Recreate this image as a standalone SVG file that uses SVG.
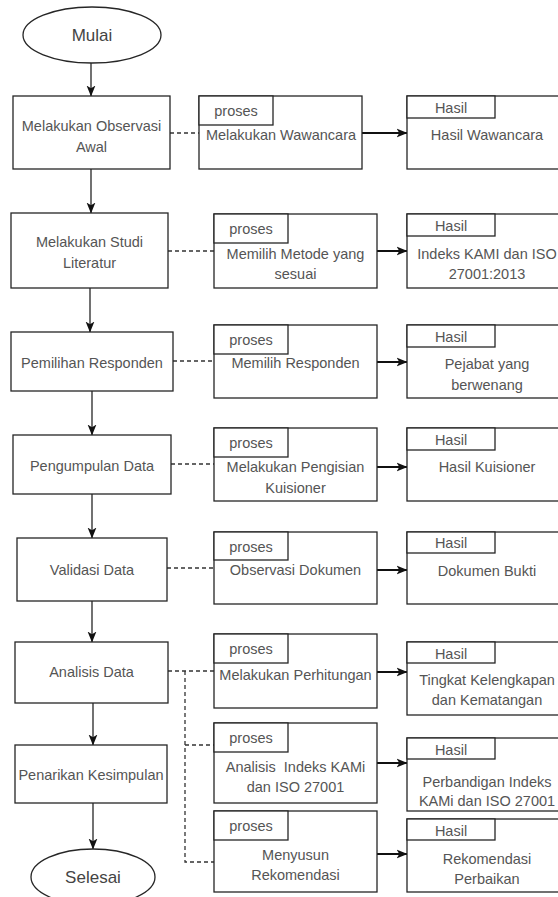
<svg xmlns="http://www.w3.org/2000/svg" width="558" height="897" viewBox="0 0 558 897">
<style>
.b{fill:#fff;stroke:#262626;stroke-width:1.3}
.t{font-family:"Liberation Sans",Arial,sans-serif;font-size:14.5px;fill:#555;text-anchor:middle;dominant-baseline:central}
.big{font-size:17px;fill:#444}
.flow{fill:none;stroke:#262626;stroke-width:1.3;marker-end:url(#ah)}
.res{fill:none;stroke:#111;stroke-width:2;marker-end:url(#ah)}
.dash{fill:none;stroke:#333;stroke-width:1.3;stroke-dasharray:4 3}
</style>
<defs>
<marker id="ah" viewBox="0 0 10 10" refX="9.5" refY="5" markerWidth="11" markerHeight="11" markerUnits="userSpaceOnUse" orient="auto">
<path d="M0,1 L10,5 L0,9 L2.5,5 z" fill="#111"/>
</marker>
</defs>
<rect width="558" height="897" fill="#fff"/>
<g id="connectors">
<path class="flow" d="M91,63 V96"/>
<path class="flow" d="M91,169 V213"/>
<path class="flow" d="M90,288 V332"/>
<path class="flow" d="M92,391 V435"/>
<path class="flow" d="M92,494 V538"/>
<path class="flow" d="M92,601 V642"/>
<path class="flow" d="M93,703 V745"/>
<path class="flow" d="M93,803 V849"/>
<path class="dash" d="M170,133 H199"/>
<path class="dash" d="M168,251 H214"/>
<path class="dash" d="M173,361 H214"/>
<path class="dash" d="M171,464 H214"/>
<path class="dash" d="M167,568 H214"/>
<path class="dash" d="M168,671 H214"/>
<path class="dash" d="M185,671 V862 H214"/>
<path class="dash" d="M185,745 H214"/>
<path class="res" d="M362,133 H407"/>
<path class="res" d="M377,251 H407"/>
<path class="res" d="M377,362 H407"/>
<path class="res" d="M377,467 H407"/>
<path class="res" d="M377,570 H407"/>
<path class="res" d="M377,672 H407"/>
<path class="res" d="M377,763 H407"/>
<path class="res" d="M377,854 H407"/>
</g>
<g id="mulai"><ellipse class="b" cx="92" cy="35" rx="69" ry="28"/><text class="t big" x="92" y="35">Mulai</text></g>
<g id="selesai"><ellipse class="b" cx="93" cy="877" rx="62" ry="28"/><text class="t big" x="93" y="877">Selesai</text></g>
<g id="m1"><rect class="b" x="13" y="96" width="157" height="73"/><text class="t" x="91.5" y="126">Melakukan Observasi</text><text class="t" x="91.5" y="147">Awal</text></g>
<g id="m2"><rect class="b" x="11" y="213" width="157" height="75"/><text class="t" x="89.5" y="242">Melakukan Studi</text><text class="t" x="89.5" y="263">Literatur</text></g>
<g id="m3"><rect class="b" x="11" y="332" width="162" height="59"/><text class="t" x="92" y="363">Pemilihan Responden</text></g>
<g id="m4"><rect class="b" x="13" y="435" width="158" height="59"/><text class="t" x="92" y="466">Pengumpulan Data</text></g>
<g id="m5"><rect class="b" x="17" y="538" width="150" height="63"/><text class="t" x="92" y="570">Validasi Data</text></g>
<g id="m6"><rect class="b" x="15" y="642" width="153" height="61"/><text class="t" x="91.5" y="672">Analisis Data</text></g>
<g id="m7"><rect class="b" x="15" y="745" width="152" height="58"/><text class="t" x="91" y="775">Penarikan Kesimpulan</text></g>
<g id="p1"><rect class="b" x="199" y="96" width="163" height="73"/><rect class="b" x="199" y="96" width="74" height="29"/><text class="t" x="236" y="111">proses</text><text class="t" x="281" y="135">Melakukan Wawancara</text></g>
<g id="p2"><rect class="b" x="214" y="214" width="163" height="74"/><rect class="b" x="214" y="214" width="74" height="29"/><text class="t" x="251" y="229">proses</text><text class="t" x="295.5" y="254">Memilih Metode yang</text><text class="t" x="295.5" y="274">sesuai</text></g>
<g id="p3"><rect class="b" x="214" y="325" width="163" height="73"/><rect class="b" x="214" y="325" width="74" height="29"/><text class="t" x="251" y="340">proses</text><text class="t" x="295.5" y="363">Memilih Responden</text></g>
<g id="p4"><rect class="b" x="214" y="428" width="163" height="73"/><rect class="b" x="214" y="428" width="74" height="29"/><text class="t" x="251" y="443">proses</text><text class="t" x="295.5" y="467">Melakukan Pengisian</text><text class="t" x="295.5" y="488">Kuisioner</text></g>
<g id="p5"><rect class="b" x="214" y="532" width="163" height="72"/><rect class="b" x="214" y="532" width="74" height="28"/><text class="t" x="251" y="547">proses</text><text class="t" x="295.5" y="570">Observasi Dokumen</text></g>
<g id="p6"><rect class="b" x="214" y="634" width="163" height="74"/><rect class="b" x="214" y="634" width="74" height="29"/><text class="t" x="251" y="649">proses</text><text class="t" x="295.5" y="675">Melakukan Perhitungan</text></g>
<g id="p7"><rect class="b" x="214" y="723" width="163" height="80"/><rect class="b" x="214" y="723" width="74" height="29"/><text class="t" x="251" y="738">proses</text><text class="t" x="295.5" y="767" xml:space="preserve">Analisis  Indeks KAMi</text><text class="t" x="295.5" y="787">dan ISO 27001</text></g>
<g id="p8"><rect class="b" x="214" y="811" width="163" height="81"/><rect class="b" x="214" y="811" width="74" height="29"/><text class="t" x="251" y="826">proses</text><text class="t" x="295.5" y="855">Menyusun</text><text class="t" x="295.5" y="875">Rekomendasi</text></g>
<g id="h1"><rect class="b" x="407" y="96" width="160" height="73"/><rect class="b" x="407" y="96" width="88" height="22"/><text class="t" x="451" y="108">Hasil</text><text class="t" x="487" y="135">Hasil Wawancara</text></g>
<g id="h2"><rect class="b" x="407" y="214" width="160" height="74"/><rect class="b" x="407" y="214" width="88" height="22"/><text class="t" x="451" y="226">Hasil</text><text class="t" x="487" y="254">Indeks KAMI dan ISO</text><text class="t" x="487" y="274">27001:2013</text></g>
<g id="h3"><rect class="b" x="407" y="325" width="160" height="73"/><rect class="b" x="407" y="325" width="88" height="22"/><text class="t" x="451" y="337">Hasil</text><text class="t" x="487" y="364">Pejabat yang</text><text class="t" x="487" y="385">berwenang</text></g>
<g id="h4"><rect class="b" x="407" y="428" width="160" height="73"/><rect class="b" x="407" y="428" width="88" height="22"/><text class="t" x="451" y="440">Hasil</text><text class="t" x="487" y="467">Hasil Kuisioner</text></g>
<g id="h5"><rect class="b" x="407" y="532" width="160" height="72"/><rect class="b" x="407" y="532" width="88" height="21"/><text class="t" x="451" y="543">Hasil</text><text class="t" x="487" y="571">Dokumen Bukti</text></g>
<g id="h6"><rect class="b" x="407" y="642" width="160" height="73"/><rect class="b" x="407" y="642" width="88" height="21"/><text class="t" x="451" y="654">Hasil</text><text class="t" x="487" y="680">Tingkat Kelengkapan</text><text class="t" x="487" y="700">dan Kematangan</text></g>
<g id="h7"><rect class="b" x="407" y="738" width="160" height="73"/><rect class="b" x="407" y="738" width="88" height="21"/><text class="t" x="451" y="750">Hasil</text><text class="t" x="487" y="782">Perbandigan Indeks</text><text class="t" x="487" y="801">KAMi dan ISO 27001</text></g>
<g id="h8"><rect class="b" x="407" y="819" width="160" height="73"/><rect class="b" x="407" y="819" width="88" height="21"/><text class="t" x="451" y="831">Hasil</text><text class="t" x="487" y="859">Rekomendasi</text><text class="t" x="487" y="879">Perbaikan</text></g>
</svg>
